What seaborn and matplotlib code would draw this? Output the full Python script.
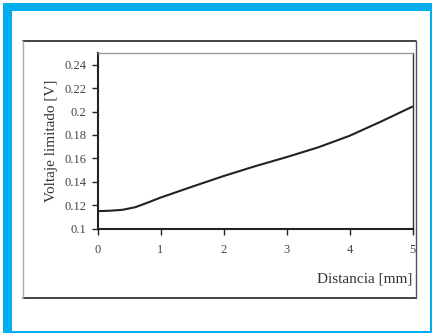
import matplotlib
matplotlib.use("Agg")
import matplotlib.pyplot as plt
from matplotlib.patches import Rectangle
from matplotlib.lines import Line2D
import seaborn as sns
import pandas as pd

distance_mm = [0.0, 0.2, 0.4, 0.6, 0.8, 1.0, 1.5, 2.0, 2.5, 3.0, 3.5, 4.0, 4.5, 5.0]
voltage_v = [0.1148, 0.1152, 0.1160, 0.1182, 0.1222, 0.1264, 0.1357, 0.1448, 0.1532, 0.1610,
             0.1693, 0.1792, 0.1914, 0.2042]
x_ticks = [0, 1, 2, 3, 4, 5]
y_ticks = [0.10, 0.12, 0.14, 0.16, 0.18, 0.20, 0.22, 0.24]
y_tick_labels = ["0.1", "0.12", "0.14", "0.16", "0.18", "0.2", "0.22", "0.24"]
x_label = "Distancia [mm]"
y_label = "Voltaje limitado [V]"

sns.set_style("white")
plt.rcParams["font.family"] = ["Liberation Serif", "DejaVu Serif"]

W, H = 432, 333
fig = plt.figure(figsize=(W / 100, H / 100), dpi=100)

def fx(px):
    return px / W

def fy(py):
    return 1 - py / H

blue = "#00AEEF"
# blue frame
fig.add_artist(Rectangle((fx(3.3), fy(332.5)), fx(431.5) - fx(3.3), fy(3.3) - fy(332.5),
                         transform=fig.transFigure, facecolor=blue, edgecolor="none", zorder=-3))
fig.add_artist(Rectangle((fx(12), fy(330.5)), fx(429.8) - fx(12), fy(11) - fy(330.5),
                         transform=fig.transFigure, facecolor="white", edgecolor="none", zorder=-2))
# inner chart box
fig.add_artist(Line2D([fx(23), fx(416)], [fy(41), fy(41)], transform=fig.transFigure, color="#222222", lw=1.2, zorder=-1))
fig.add_artist(Line2D([fx(23), fx(416)], [fy(298), fy(298)], transform=fig.transFigure, color="#222222", lw=1.2, zorder=-1))
fig.add_artist(Line2D([fx(23), fx(23)], [fy(41), fy(298)], transform=fig.transFigure, color="#aaaaaa", lw=1.0, zorder=-1))
fig.add_artist(Line2D([fx(416), fx(416)], [fy(41), fy(298)], transform=fig.transFigure, color="#555555", lw=1.0, zorder=-1))

ax = fig.add_axes([fx(97.5), fy(228.5), fx(412.5) - fx(97.5), fy(53) - fy(228.5)])
ax.set_zorder(1)
ax.set_facecolor("white")

df = pd.DataFrame({"d": distance_mm, "v": voltage_v})
sns.lineplot(data=df, x="d", y="v", ax=ax, color="#222222", linewidth=1.5)

ax.set_xlim(0, 5)
ax.set_ylim(0.1, 0.25)
ax.set_xticks(x_ticks)
ax.set_xticklabels([str(t) for t in x_ticks])
ax.set_yticks(y_ticks)
ax.set_yticklabels(y_tick_labels)
ax.tick_params(axis="both", direction="out", length=4, width=1.0, color="#222222",
               labelsize=9, labelcolor="#444444", bottom=True, left=True)
ax.tick_params(axis="x", pad=7)
ax.tick_params(axis="y", pad=4)

for side in ["left", "bottom"]:
    ax.spines[side].set_color("#222222")
    ax.spines[side].set_linewidth(1.5)
ax.spines["top"].set_color("#999999")
ax.spines["top"].set_linewidth(1.0)
ax.spines["right"].set_color("#333333")
ax.spines["right"].set_linewidth(1.0)

ax.set_xlabel(x_label, fontsize=11, color="#333333", ha="right", va="center")
ax.xaxis.set_label_coords(1.0, (228.5 - 279) / 175.5)
ax.set_ylabel(y_label, fontsize=11, color="#333333", ha="center", va="center")
ax.yaxis.set_label_coords((52 - 97.5) / 315, 0.5)

fig.savefig("out.png", dpi=100)
